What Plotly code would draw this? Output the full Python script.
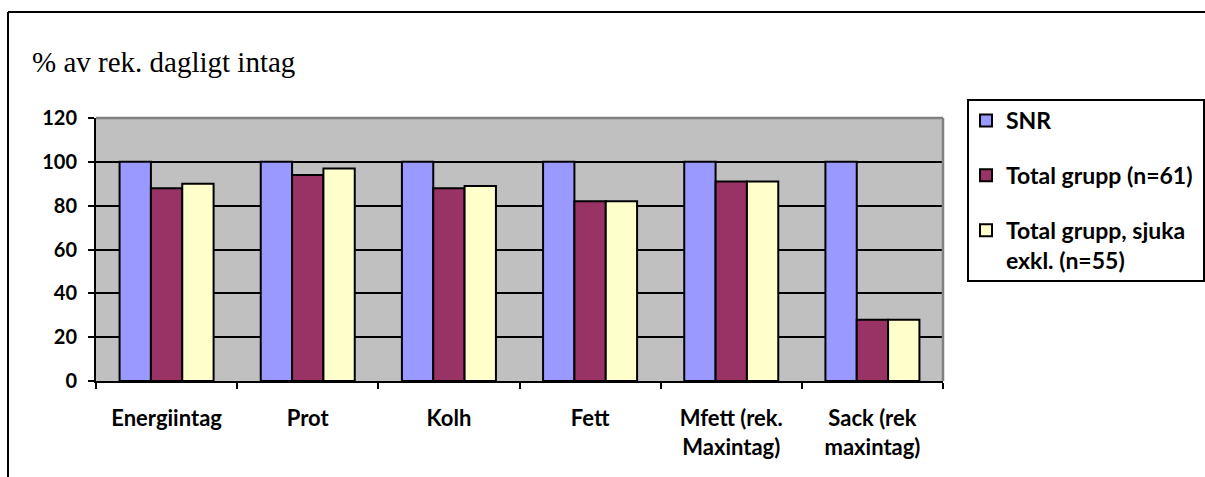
import plotly.graph_objects as go

# ---- data ----
categories = ["Energiintag", "Prot", "Kolh", "Fett",
              "Mfett (rek.<br>Maxintag)", "Sack (rek<br>maxintag)"]
series_names = ["SNR", "Total grupp (n=61)", "Total grupp, sjuka<br>exkl. (n=55)"]
snr = [100, 100, 100, 100, 100, 100]
total_grupp = [88, 94, 88, 82, 91, 28]
total_exkl = [90, 97, 89, 82, 91, 28]
y_ticks = [0, 20, 40, 60, 80, 100, 120]
title_text = "% av rek. dagligt intag"

# ---- style ----
colors = ["#9999FF", "#993366", "#FFFFCC"]
W, H = 1205, 477
L, R, T, B = 96, 262, 118, 96
pw, ph = W - L - R, H - T - B


def px(x):
    return (x - L) / pw


def py(y):
    return (H - B - y) / ph


fig = go.Figure()
for name, vals, col in zip(series_names, [snr, total_grupp, total_exkl], colors):
    fig.add_trace(go.Bar(
        x=categories, y=vals, name=name, legendgroup=name,
        marker=dict(color=col, line=dict(color="black", width=2)),
        hoverinfo="skip",
    ))

shapes = [
    # outer frame (top and left)
    dict(type="line", xref="paper", yref="paper", x0=px(8), x1=px(1400),
         y0=py(12), y1=py(12), line=dict(color="black", width=2)),
    dict(type="line", xref="paper", yref="paper", x0=px(8), x1=px(8),
         y0=py(12), y1=py(600), line=dict(color="black", width=2)),
    # legend box
    dict(type="rect", xref="paper", yref="paper", x0=px(968), x1=px(1204),
         y0=py(281), y1=py(100), fillcolor="white",
         line=dict(color="black", width=2), layer="below"),
    # grey plot-area border (top and right)
    dict(type="line", xref="paper", yref="paper", x0=0, x1=1, y0=1, y1=1,
         line=dict(color="#808080", width=2.5), layer="above"),
    dict(type="line", xref="paper", yref="paper", x0=1, x1=1, y0=0, y1=1,
         line=dict(color="#808080", width=2.5), layer="above"),
]

fig.update_layout(
    width=W, height=H,
    margin=dict(l=L, r=R, t=T, b=B, autoexpand=False),
    paper_bgcolor="white", plot_bgcolor="#C0C0C0",
    barmode="group", bargap=0.334, bargroupgap=0,
    title=dict(text=title_text, xref="container", yref="container",
               x=32 / W, xanchor="left", y=1 - 62 / H, yanchor="middle",
               font=dict(family="Liberation Serif", size=29, color="black")),
    shapes=shapes,
    showlegend=True,
    legend=dict(x=px(966), y=py(99), xanchor="left", yanchor="top",
                bgcolor="rgba(0,0,0,0)", borderwidth=0,
                font=dict(family="Lato", size=23, color="black", weight="bold"),
                valign="top", tracegroupgap=22, traceorder="grouped",
                itemclick=False, itemdoubleclick=False),
    xaxis=dict(showline=True, linecolor="black", linewidth=2,
               ticks="outside", tickson="boundaries", ticklen=6,
               tickwidth=2, tickcolor="black",
               tickfont=dict(family="Lato", size=22, color="black", weight="bold"),
               ticklabelstandoff=17, showgrid=False, fixedrange=True),
    yaxis=dict(range=[0, 120], tickvals=y_ticks, showgrid=True,
               gridcolor="black", gridwidth=2, zeroline=False,
               showline=True, linecolor="black", linewidth=2,
               ticks="outside", ticklen=6, tickwidth=2, tickcolor="black",
               tickfont=dict(family="Lato", size=20, color="black", weight="bold"),
               ticklabelstandoff=7, fixedrange=True),
)

fig.write_html("out.html")
